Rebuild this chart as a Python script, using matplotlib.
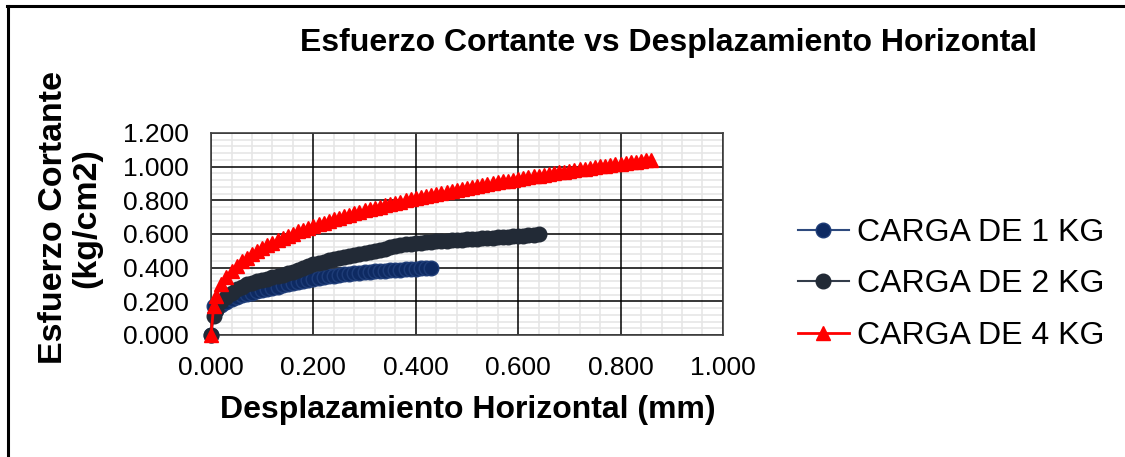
import matplotlib.pyplot as plt
from matplotlib.lines import Line2D
from matplotlib.ticker import MultipleLocator, FormatStrFormatter

plt.rcParams['font.family'] = ['Liberation Sans', 'DejaVu Sans']

# desplazamiento horizontal (mm) y esfuerzo cortante (kg/cm2) por carga
x_1kg = [0.000, 0.005, 0.01, 0.02, 0.03, 0.04, 0.05, 0.06, 0.07, 0.08, 0.09,
         0.10, 0.11, 0.12, 0.13, 0.14, 0.15, 0.16, 0.17, 0.18, 0.19,
         0.20, 0.21, 0.22, 0.23, 0.24, 0.25, 0.26, 0.27, 0.28, 0.29,
         0.30, 0.31, 0.32, 0.33, 0.34, 0.35, 0.36, 0.37, 0.38, 0.39,
         0.40, 0.41, 0.42, 0.43]
y_1kg = [0.000, 0.170, 0.150, 0.180, 0.198, 0.212, 0.225, 0.235, 0.244, 0.252, 0.259,
         0.266, 0.273, 0.280, 0.287, 0.294, 0.301, 0.308, 0.315, 0.322, 0.328,
         0.334, 0.339, 0.344, 0.349, 0.353, 0.357, 0.360, 0.363, 0.366, 0.369,
         0.372, 0.375, 0.378, 0.380, 0.382, 0.384, 0.386, 0.388, 0.390, 0.392,
         0.394, 0.396, 0.398, 0.400]

x_2kg = [0.000, 0.005, 0.01, 0.02, 0.03, 0.04, 0.05, 0.06, 0.07, 0.08, 0.09,
         0.10, 0.11, 0.12, 0.13, 0.14, 0.15, 0.16, 0.17, 0.18, 0.19,
         0.20, 0.21, 0.22, 0.23, 0.24, 0.25, 0.26, 0.27, 0.28, 0.29,
         0.30, 0.31, 0.32, 0.33, 0.34, 0.35, 0.36, 0.37, 0.38, 0.39,
         0.40, 0.41, 0.42, 0.43, 0.44, 0.45, 0.46, 0.47, 0.48, 0.49,
         0.50, 0.51, 0.52, 0.53, 0.54, 0.55, 0.56, 0.57, 0.58, 0.59,
         0.60, 0.61, 0.62, 0.63, 0.64]
y_2kg = [0.000, 0.110, 0.150, 0.200, 0.228, 0.252, 0.272, 0.288, 0.300, 0.310, 0.318,
         0.326, 0.334, 0.342, 0.350, 0.358, 0.366, 0.375, 0.385, 0.396, 0.410,
         0.420, 0.428, 0.436, 0.443, 0.450, 0.456, 0.462, 0.468, 0.474, 0.480,
         0.488, 0.494, 0.500, 0.506, 0.512, 0.520, 0.527, 0.533, 0.538, 0.542,
         0.546, 0.549, 0.552, 0.554, 0.556, 0.558, 0.560, 0.562, 0.564, 0.566,
         0.568, 0.570, 0.572, 0.574, 0.576, 0.578, 0.580, 0.582, 0.584, 0.586,
         0.588, 0.590, 0.592, 0.595, 0.598]

x_4kg = [0.000, 0.005, 0.01, 0.02, 0.03, 0.04, 0.05, 0.06, 0.07, 0.08, 0.09,
         0.10, 0.11, 0.12, 0.13, 0.14, 0.15, 0.16, 0.17, 0.18, 0.19,
         0.20, 0.21, 0.22, 0.23, 0.24, 0.25, 0.26, 0.27, 0.28, 0.29,
         0.30, 0.31, 0.32, 0.33, 0.34, 0.35, 0.36, 0.37, 0.38, 0.39,
         0.40, 0.41, 0.42, 0.43, 0.44, 0.45, 0.46, 0.47, 0.48, 0.49,
         0.50, 0.51, 0.52, 0.53, 0.54, 0.55, 0.56, 0.57, 0.58, 0.59,
         0.60, 0.61, 0.62, 0.63, 0.64, 0.65, 0.66, 0.67, 0.68, 0.69,
         0.70, 0.71, 0.72, 0.73, 0.74, 0.75, 0.76, 0.77, 0.78, 0.79,
         0.80, 0.81, 0.82, 0.83, 0.84, 0.85, 0.86]
y_4kg = [0.000, 0.170, 0.230, 0.300, 0.345, 0.382, 0.412, 0.438, 0.460, 0.481, 0.500,
         0.517, 0.533, 0.549, 0.563, 0.577, 0.590, 0.602, 0.615, 0.626, 0.637,
         0.648, 0.658, 0.668, 0.678, 0.688, 0.697, 0.706, 0.715, 0.723, 0.732,
         0.740, 0.748, 0.756, 0.763, 0.771, 0.778, 0.785, 0.792, 0.799, 0.806,
         0.812, 0.819, 0.825, 0.832, 0.838, 0.844, 0.850, 0.856, 0.862, 0.868,
         0.874, 0.879, 0.885, 0.891, 0.896, 0.901, 0.907, 0.912, 0.917, 0.922,
         0.927, 0.932, 0.937, 0.942, 0.947, 0.952, 0.956, 0.961, 0.966, 0.970,
         0.975, 0.979, 0.984, 0.988, 0.993, 0.997, 1.001, 1.006, 1.010, 1.014,
         1.018, 1.022, 1.026, 1.030, 1.034, 1.038, 1.042]

series_labels = ['CARGA DE 1 KG', 'CARGA DE 2 KG', 'CARGA DE 4 KG']

fig = plt.figure(figsize=(11.25, 4.57), dpi=100)
ax = fig.add_axes([0.1876, 0.267, 0.455, 0.442])

# borde del área del gráfico (solo arriba e izquierda)
fig.add_artist(Line2D([0.0062, 1.0], [0.987, 0.987], color='black', lw=2.2,
                      transform=fig.transFigure))
fig.add_artist(Line2D([0.0071, 0.0071], [0.0, 0.987], color='black', lw=2.2,
                      transform=fig.transFigure))

ax.plot(x_1kg, y_1kg, color='#2E4A7E', lw=1.5, marker='o', ms=10.5,
        mfc='#0E2A62', mec='#1F3D78', mew=1.0, label=series_labels[0],
        zorder=3, clip_on=False)
ax.plot(x_2kg, y_2kg, color='#333C4A', lw=1.5, marker='o', ms=10.5,
        mfc='#222A36', mec='#222A36', label=series_labels[1],
        zorder=4, clip_on=False)
ax.plot(x_4kg, y_4kg, color='#FF0000', lw=2.0, marker='^', ms=10.5,
        mfc='#FF0000', mec='#FF0000', label=series_labels[2],
        zorder=5, clip_on=False)

ax.set_xlim(0, 1.0)
ax.set_ylim(0, 1.2)
ax.xaxis.set_major_locator(MultipleLocator(0.2))
ax.yaxis.set_major_locator(MultipleLocator(0.2))
ax.xaxis.set_minor_locator(MultipleLocator(0.04))
ax.yaxis.set_minor_locator(MultipleLocator(0.04))
ax.xaxis.set_major_formatter(FormatStrFormatter('%.3f'))
ax.yaxis.set_major_formatter(FormatStrFormatter('%.3f'))

# rejilla secundaria gris, la principal negra encima
ax.grid(which='minor', color='#E6E6E6', lw=1.2)
ax.set_axisbelow(True)
for v in ax.get_xticks()[1:-1]:
    ax.axvline(v, color='black', lw=1.1, zorder=1)
for v in ax.get_yticks()[1:-1]:
    ax.axhline(v, color='black', lw=1.1, zorder=1)

ax.tick_params(which='both', length=0, labelsize=19, colors='black')
ax.tick_params(axis='x', pad=15)
ax.tick_params(axis='y', pad=16)
for s in ax.spines.values():
    s.set_color('#404040')
    s.set_linewidth(1.2)

fig.text(0.416, 0.103, 'Desplazamiento Horizontal (mm)', ha='center', va='center',
         fontsize=23, fontweight='bold')
fig.text(0.0622, 0.523, 'Esfuerzo Cortante\n(kg/cm2)', ha='center', va='center',
         rotation=90, multialignment='center', fontsize=24.5, fontweight='bold',
         linespacing=1.1)
fig.text(0.594, 0.905, 'Esfuerzo Cortante vs Desplazamiento Horizontal',
         ha='center', va='center', fontsize=23, fontweight='bold')

ax.legend(loc='center left', bbox_to_anchor=(1.146, 0.25), frameon=False,
          fontsize=23, handlelength=1.6, handletextpad=0.25, labelspacing=0.67,
          borderaxespad=0, borderpad=0)

fig.savefig('out.png', dpi=100)
